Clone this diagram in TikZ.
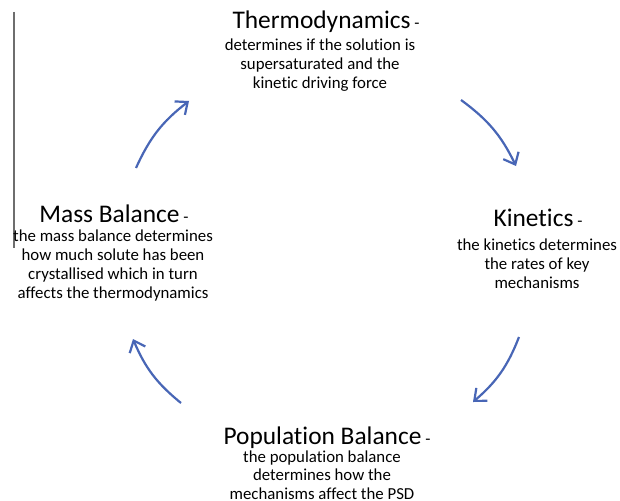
\documentclass[tikz,border=0pt]{standalone}
\usepackage{fontspec}
\setmainfont{Carlito}[Ligatures=NoCommon]
\usetikzlibrary{arrows.meta}
\definecolor{arrowblue}{RGB}{72,102,182}
\definecolor{lineGray}{RGB}{110,110,110}
\tikzset{
  ttl/.style={anchor=base, inner sep=0pt, font=\fontsize{25.4}{27}\selectfont},
  body/.style={anchor=north, inner sep=0pt, align=center, font=\fontsize{16.8}{19}\selectfont},
  cyc/.style={arrowblue, line width=2.2pt, -{Straight Barb[length=10pt,width=17pt,line width=2.2pt]}, bend left=14}
}
\newcommand{\dsh}{{\fontsize{16.8}{18}\selectfont\ -}}
\begin{document}
\begin{tikzpicture}[x=1pt,y=-1pt]
\useasboundingbox (0,0) rectangle (620,500);
\fill[white] (0,0) rectangle (620,500);
% left vertical line
\coordinate (vtop) at (14,12);
\coordinate (vbot) at (14,248);
\draw[lineGray, line width=1.3pt] (vtop) -- (vbot);
% Thermodynamics
\node[ttl] (thermo) at (326,29) {Thermodynamics\dsh};
\node[body] (thermob) at (320,38.5) {determines if the solution is\\supersaturated and the\\kinetic driving force};
% Kinetics
\node[ttl] (kin) at (538,226) {Kinetics\dsh};
\node[body] (kinb) at (537,238.5) {the kinetics determines\\the rates of key\\mechanisms};
% Mass balance
\node[ttl] (mass) at (114,222) {Mass Balance\dsh};
\node[body] (massb) at (113,229.5) {the mass balance determines\\how much solute has been\\crystallised which in turn\\affects the thermodynamics};
% Population balance
\node[ttl] (pop) at (327,444) {Population Balance\dsh};
\node[body, font=\fontsize{16.8}{18.6}\selectfont] (popb) at (322,450.5) {the population balance\\determines how the\\mechanisms affect the PSD};
% arrows
\coordinate (a1s) at (136,168);
\coordinate (a1e) at (189,101);
\coordinate (a2s) at (461,100);
\coordinate (a2e) at (516,166);
\coordinate (a3s) at (519,337);
\coordinate (a3e) at (473,402);
\coordinate (a4s) at (181,403);
\coordinate (a4e) at (133,339);
\draw[cyc] (a1s) to (a1e);
\draw[cyc] (a2s) to (a2e);
\draw[cyc] (a3s) to (a3e);
\draw[cyc] (a4s) to (a4e);
\end{tikzpicture}
\end{document}
